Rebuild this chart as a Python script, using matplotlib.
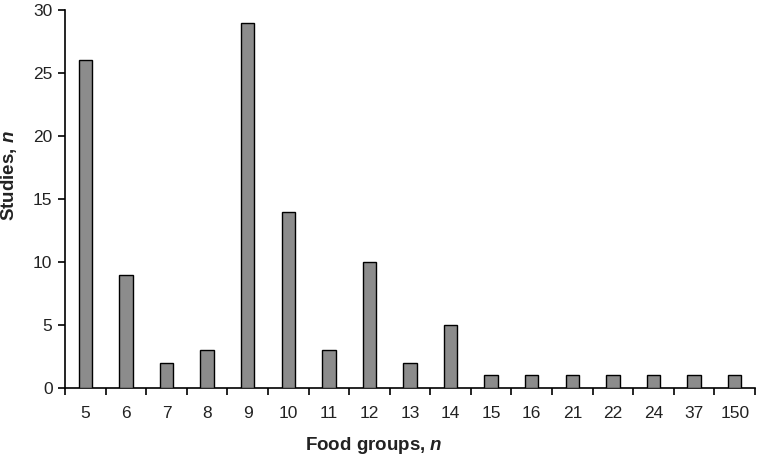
import matplotlib
matplotlib.use("Agg")
import matplotlib.pyplot as plt
import numpy as np

categories = ["5", "6", "7", "8", "9", "10", "11", "12", "13", "14", "15", "16", "21", "22", "24", "37", "150"]
studies = [26, 9, 2, 3, 29, 14, 3, 10, 2, 5, 1, 1, 1, 1, 1, 1, 1]

plt.rcParams['font.family'] = ['Liberation Sans', 'DejaVu Sans']
plt.rcParams['mathtext.fontset'] = 'custom'
plt.rcParams['mathtext.it'] = 'Liberation Sans:italic:bold'
plt.rcParams['mathtext.rm'] = 'Liberation Sans:bold'

fig = plt.figure(figsize=(7.57, 4.58), dpi=100)
ax = fig.add_axes([65/757, 70/458, 690/757, 378/458])

x = np.arange(len(categories))
ax.bar(x, studies, width=0.33, color='#8c8c8c', edgecolor='black', linewidth=1.0, zorder=3)

ax.set_xlim(-0.5, len(categories) - 0.5)
ax.set_ylim(0, 30)
ax.set_yticks(range(0, 31, 5))
ax.set_xticks(x)
ax.set_xticklabels(categories)
ax.set_xticks(np.arange(-0.5, len(categories), 1), minor=True)
ax.tick_params(axis='x', which='major', length=0, pad=13, labelsize=12.5, labelcolor='#222222')
ax.tick_params(axis='x', which='minor', length=5, width=1.2, direction='out')
ax.tick_params(axis='y', length=5, width=1.2, direction='out', labelsize=12.5, pad=4, labelcolor='#222222')

for s in ['top', 'right']:
    ax.spines[s].set_visible(False)
for s in ['left', 'bottom']:
    ax.spines[s].set_linewidth(1.2)

fig.text(374/757, 1 - 450/458, r"Food groups, $n$", fontsize=13.5, fontweight='bold',
         ha='center', va='baseline', color='#222222')
fig.text(9/757, 1 - 176/458, r"Studies, $n$", fontsize=13.5, fontweight='bold', rotation=90,
         ha='center', va='center', color='#222222')

fig.savefig("out.png", dpi=100)
